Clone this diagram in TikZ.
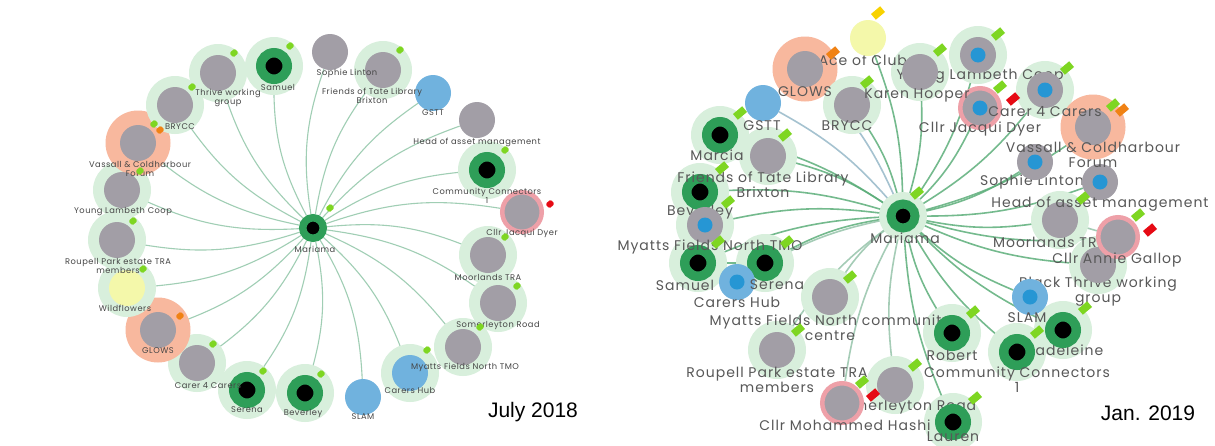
\documentclass[tikz,border=0pt]{standalone}
\usepackage{fontspec}
\setmainfont{Poppins}
\newfontfamily\capfont{Liberation Sans}
\newfontfamily\rlabelfont[LetterSpace=7]{Poppins}
\newfontfamily\llabelfont[LetterSpace=6]{Poppins}
\pgfdeclarelayer{bg}
\pgfdeclarelayer{edges}
\pgfdeclarelayer{halos}
\pgfdeclarelayer{lbl}
\pgfdeclarelayer{top}
\pgfsetlayers{bg,edges,halos,lbl,main,top}

\definecolor{ngray}{RGB}{162,158,166}
\definecolor{halo}{RGB}{216,239,220}
\definecolor{ohalo}{RGB}{248,184,158}
\definecolor{ngreen}{RGB}{46,158,88}
\definecolor{nblue}{RGB}{112,178,222}
\definecolor{nbluec}{RGB}{38,150,212}
\definecolor{nyellow}{RGB}{244,248,170}
\definecolor{npink}{RGB}{238,160,168}
\definecolor{tgreen}{RGB}{126,214,34}
\definecolor{torange}{RGB}{240,130,20}
\definecolor{tred}{RGB}{230,10,20}
\definecolor{tyellow}{RGB}{248,210,0}
\definecolor{txt}{RGB}{88,88,88}
\definecolor{ltxt}{RGB}{70,70,70}
\definecolor{redgec}{RGB}{92,174,122}
\definecolor{redgel}{RGB}{150,196,170}
\definecolor{redgeb}{RGB}{150,184,200}
\definecolor{ledgec}{RGB}{160,206,180}

% node with a pale green halo behind it
\newcommand\withhalo[3]{%
  \begin{pgfonlayer}{halos}\node[halo] (#1-h) at (#2) {};\end{pgfonlayer}%
  \node[#3] (#1) at (#2) {};}
% node with a salmon halo behind it
\newcommand\withohalo[3]{%
  \begin{pgfonlayer}{halos}\node[ohalo] (#1-h) at (#2) {};\end{pgfonlayer}%
  \node[#3] (#1) at (#2) {};}
% node without halo
\newcommand\bare[3]{\node[#3] (#1) at (#2) {};}
% blue centre dot of a node
\newcommand\bluedot[1]{\node[bdot] (#1-c) at (#1) {};}

\begin{document}
\begin{tikzpicture}[x=1pt,y=-1pt,
  gnode/.style={circle,fill=ngray,minimum size=36pt,inner sep=0pt},
  halo/.style={circle,fill=halo,minimum size=58pt,inner sep=0pt},
  ohalo/.style={circle,fill=ohalo,minimum size=65pt,inner sep=0pt},
  grnode/.style={circle,fill=black,draw=ngreen,line width=9.5pt,minimum size=26.5pt,inner sep=0pt},
  bnode/.style={circle,fill=nblue,minimum size=36pt,inner sep=0pt},
  ynode/.style={circle,fill=nyellow,minimum size=36pt,inner sep=0pt},
  bdot/.style={circle,fill=nbluec,minimum size=15pt,inner sep=0pt},
  rnode/.style={circle,fill=ngray,draw=npink,line width=4.5pt,minimum size=39.5pt,inner sep=0pt},
  tagbox/.style={rectangle,fill=tgreen,minimum width=12pt,minimum height=7.5pt,inner sep=0pt,rotate=40},
  stagbox/.style={rectangle,rounded corners=1.5pt,fill=tgreen,minimum width=7pt,minimum height=6pt,inner sep=0pt,rotate=40},
  rlbl/.style={font=\rlabelfont\fontsize{14}{15}\selectfont,text=txt,align=center,inner sep=0pt},
  llbl/.style={font=\llabelfont\fontsize{8.3}{9}\selectfont,text=ltxt,align=center,inner sep=0pt},
  redge/.style={draw=redgec,line width=1.6pt,opacity=.85},
  ledge/.style={draw=ledgec,line width=1.1pt},
  caption/.style={font=\capfont\fontsize{21}{24}\selectfont,text=black,inner sep=0pt}
]
\useasboundingbox (0,0) rectangle (1215,445);
\begin{pgfonlayer}{bg}\fill[white] (0,0) rectangle (1215,445);\end{pgfonlayer}

% ================= left network =================
\node[grnode,minimum size=20.5pt,line width=7.5pt] (lmar) at (313,228) {};
\withhalo{lsam}{274,66}{grnode}
\bare{lsoph}{330,52}{gnode}
\withhalo{lfri}{383,70}{gnode}
\bare{lgstt}{433,93}{bnode}
\bare{lhead}{477,120}{gnode}
\withhalo{lcc}{487,170}{grnode}
\bare{ljd}{522,212}{rnode}
\withhalo{lmoor}{488,255}{gnode}
\withhalo{lsom}{498,303}{gnode}
\withhalo{lmft}{463,347}{gnode}
\withhalo{lch}{410,373}{bnode}
\bare{lslam}{363,397}{bnode}
\withhalo{lbev}{305,393}{grnode}
\withhalo{lser}{247,390}{grnode}
\withhalo{lc4c}{197,363}{gnode}
\withohalo{lglows}{158,330}{gnode}
\withhalo{lwild}{127,288}{ynode}
\withhalo{lrou}{117,240}{gnode}
\withhalo{lylc}{122,190}{gnode}
\withohalo{lvas}{138,143}{gnode}
\withhalo{lbry}{175,105}{gnode}
\withhalo{lthr}{218,73}{gnode}

\begin{pgfonlayer}{top}
\node[llbl] (lmar-l) at (315,249) {Mariama};
\node[llbl] (lsam-l) at (278,87) {Samuel};
\node[llbl] (lsoph-l) at (347,73) {Sophie Linton};
\node[llbl] (lfri-l) at (372,96) {Friends of Tate Library\\Brixton};
\node[llbl] (lgstt-l) at (433,113) {GSTT};
\node[llbl] (lhead-l) at (477,142) {Head of asset management};
\node[llbl] (lcc-l) at (487,196) {Community Connectors\\1};
\node[llbl] (ljd-l) at (522,233) {Cllr Jacqui Dyer};
\node[llbl] (lmoor-l) at (488,277) {Moorlands TRA};
\node[llbl] (lsom-l) at (498,325) {Somerleyton Road};
\node[llbl] (lmft-l) at (465,367) {Myatts Fields North TMO};
\node[llbl] (lch-l) at (410,390) {Carers Hub};
\node[llbl] (lslam-l) at (363,417) {SLAM};
\node[llbl] (lbev-l) at (303,413) {Beverley};
\node[llbl] (lser-l) at (247,410) {Serena};
\node[llbl] (lc4c-l) at (208,386) {Carer 4 Carers};
\node[llbl] (lglows-l) at (158,351) {GLOWS};
\node[llbl] (lwild-l) at (125,308) {Wildflowers};
\node[llbl] (lrou-l) at (118,266) {Roupell Park estate TRA\\members};
\node[llbl] (lylc-l) at (123,212) {Young Lambeth Coop};
\node[llbl] (lvas-l) at (140,169) {Vassall \& Coldharbour\\Forum};
\node[llbl] (lbry-l) at (180,127) {BRYCC};
\node[llbl] (lthr-l) at (228,98) {Thrive working\\group};
% status flags
\node[stagbox] (lmar-t) at (330,208) {};
\node[stagbox] (lsam-t) at (290,46) {};
\node[stagbox] (lfri-t) at (400,50) {};
\node[stagbox] (lcc-t) at (505,150) {};
\node[stagbox,fill=tred] (ljd-t) at (550,204) {};
\node[stagbox] (lmoor-t) at (505,237) {};
\node[stagbox] (lsom-t) at (517,286) {};
\node[stagbox] (lmft-t) at (480,327) {};
\node[stagbox] (lch-t) at (427,350) {};
\node[stagbox] (lbev-t) at (321,374) {};
\node[stagbox] (lser-t) at (263,371) {};
\node[stagbox] (lc4c-t) at (213,344) {};
\node[stagbox,fill=torange] (lglows-t) at (180,316) {};
\node[stagbox] (lwild-t) at (143,269) {};
\node[stagbox] (lrou-t) at (133,221) {};
\node[stagbox] (lylc-t) at (140,171) {};
\node[stagbox] (lvas-t) at (154,124) {};
\node[stagbox,fill=torange] (lvas-t2) at (160,130) {};
\node[stagbox] (lbry-t) at (192,87) {};
\node[stagbox] (lthr-t) at (234,53) {};
\end{pgfonlayer}

\begin{pgfonlayer}{edges}
\foreach \n in {lsam,lsoph,lfri,lgstt,lhead,lcc,ljd,lmoor,lsom,lmft,lch,lslam,lbev,lser,lc4c,lglows,lwild,lrou,lylc,lvas,lbry,lthr}
  \draw[ledge] (lmar) to[bend left=14] (\n);
\end{pgfonlayer}

\node[caption] (lcap) at (533,412) {July 2018};

% ================= right network =================
\begin{pgfonlayer}{halos}\node[halo,minimum size=48pt] (rmr-h) at (903,216) {};\end{pgfonlayer}
\node[grnode,minimum size=24pt,line width=9pt] (rmr) at (903,216) {};
\bare{race}{868,38}{ynode}
\withohalo{rglows}{805,69}{gnode}
\withhalo{rbry}{852,105}{gnode}
\withhalo{rylc}{978,55}{gnode}\bluedot{rylc}
\withhalo{rkar}{920,72}{gnode}
\withhalo{rc4c}{1045,90}{gnode}\bluedot{rc4c}
\bare{rjd}{980,108}{rnode}\bluedot{rjd}
\withohalo{rvas}{1093,127}{gnode}
\bare{rsoph}{1035,162}{gnode}\bluedot{rsoph}
\bare{rhead}{1100,182}{gnode}\bluedot{rhead}
\withhalo{rmoor}{1060,220}{gnode}
\withhalo{rbt}{1098,265}{gnode}
\bare{rag}{1118,237}{rnode}
\bare{rslam}{1030,297}{bnode}\bluedot{rslam}
\withhalo{rmad}{1063,330}{grnode}
\withhalo{rcc}{1017,352}{grnode}
\withhalo{rrob}{952,333}{grnode}
\withhalo{rlau}{953,422}{grnode}
\withhalo{rsom}{895,385}{gnode}
\bare{rmh}{842,403}{rnode}
\withhalo{rrou}{777,350}{gnode}
\withhalo{rmfc}{830,297}{gnode}
\withhalo{rsam}{698,263}{grnode}
\withhalo{rser}{765,263}{grnode}
\bare{rch}{737,282}{bnode}\bluedot{rch}
\withhalo{rbev}{700,192}{grnode}
\withhalo{rmft}{705,225}{gnode}\bluedot{rmft}
\withhalo{rfri}{768,156}{gnode}
\withhalo{rmar}{720,135}{grnode}
\bare{rgstt}{763,103}{bnode}

% labels partly hidden by neighbouring nodes
\begin{pgfonlayer}{lbl}
\node[rlbl] (race-l) at (867,60) {Ace of Clubs};
\node[rlbl] (rylc-l) at (980,76) {Young Lambeth Coop};
\node[rlbl] (rsoph-l) at (1032,182) {Sophie Linton};
\node[rlbl] (rmoor-l) at (1050,242) {Moorlands TRA};
\node[rlbl] (rbt-l) at (1098,292) {Black Thrive working\\group};
\node[rlbl] (rmad-l) at (1063,350) {Madeleine};
\node[rlbl] (rsom-l) at (905,407) {Somerleyton Road};
\node[rlbl] (rmfc-l) at (830,328) {Myatts Fields North community\\centre};
\node[rlbl] (rsam-l) at (685,285) {Samuel};
\node[rlbl] (rbev-l) at (700,212) {Beverley};
\end{pgfonlayer}

\begin{pgfonlayer}{top}
\node[rlbl] (rmr-l) at (905,238) {Mariama};
\node[rlbl] (rglows-l) at (805,92) {GLOWS};
\node[rlbl] (rbry-l) at (847,126) {BRYCC};
\node[rlbl] (rkar-l) at (917,95) {Karen Hooper};
\node[rlbl] (rjd-l) at (980,129) {Cllr Jacqui Dyer};
\node[rlbl] (rc4c-l) at (1045,112) {Carer 4 Carers};
\node[rlbl] (rvas-l) at (1093,155) {Vassall \& Coldharbour\\Forum};
\node[rlbl] (rhead-l) at (1100,204) {Head of asset management};
\node[rlbl] (rag-l) at (1117,260) {Cllr Annie Gallop};
\node[rlbl] (rslam-l) at (1027,318) {SLAM};
\node[rlbl] (rcc-l) at (1017,380) {Community Connectors\\1};
\node[rlbl] (rrob-l) at (952,355) {Robert};
\node[rlbl] (rlau-l) at (953,437) {Lauren};
\node[rlbl] (rmh-l) at (845,425) {Cllr Mohammed Hashi};
\node[rlbl] (rrou-l) at (777,380) {Roupell Park estate TRA\\members};
\node[rlbl] (rch-l) at (737,302) {Carers Hub};
\node[rlbl] (rser-l) at (777,285) {Serena};
\node[rlbl] (rmft-l) at (710,247) {Myatts Fields North TMO};
\node[rlbl] (rfri-l) at (763,185) {Friends of Tate Library\\Brixton};
\node[rlbl] (rmar-l) at (717,155) {Marcia};
\node[rlbl] (rgstt-l) at (762,126) {GSTT};
% status flags
\node[tagbox] (rmr-t) at (917,193) {};
\node[tagbox,fill=tyellow] (race-t) at (878,13) {};
\node[tagbox,fill=torange] (rglows-t) at (833,53) {};
\node[tagbox] (rbry-t) at (867,82) {};
\node[tagbox] (rkar-t) at (940,50) {};
\node[tagbox] (rylc-t) at (998,34) {};
\node[tagbox] (rjd-t) at (1000,87) {};
\node[tagbox,fill=tred] (rjd-t2) at (1013,99) {};
\node[tagbox] (rc4c-t) at (1067,68) {};
\node[tagbox] (rvas-t) at (1113,105) {};
\node[tagbox,fill=torange] (rvas-t2) at (1122,110) {};
\node[tagbox] (rmoor-t) at (1083,198) {};
\node[tagbox] (rag-t) at (1138,215) {};
\node[tagbox,fill=tred] (rag-t2) at (1150,230) {};
\node[tagbox] (rmad-t) at (1085,308) {};
\node[tagbox] (rcc-t) at (1037,332) {};
\node[tagbox] (rrob-t) at (973,312) {};
\node[tagbox] (rlau-t) at (975,398) {};
\node[tagbox] (rsom-t) at (915,365) {};
\node[tagbox] (rmh-t) at (862,382) {};
\node[tagbox,fill=tred] (rmh-t2) at (873,395) {};
\node[tagbox] (rrou-t) at (798,330) {};
\node[tagbox] (rmfc-t) at (850,277) {};
\node[tagbox] (rser-t) at (787,242) {};
\node[tagbox] (rsam-t) at (718,242) {};
\node[tagbox] (rmft-t) at (728,202) {};
\node[tagbox] (rbev-t) at (722,168) {};
\node[tagbox] (rfri-t) at (785,135) {};
\node[tagbox] (rmar-t) at (740,113) {};
\end{pgfonlayer}

\begin{pgfonlayer}{edges}
\foreach \n in {race,rbry,rkar,rylc,rjd,rc4c,rvas,rsoph,rhead,rmoor,rag,rbt,rslam,rmad,rcc,rrob,rlau,rser,rsam,rmft,rbev,rfri,rmar}
  \draw[redge] (rmr) to[bend right=10] (\n);
\foreach \n in {rsom,rmh,rrou,rmfc,rch}
  \draw[redge,draw=redgel] (rmr) to[bend right=10] (\n);
\foreach \n in {rglows,rgstt}
  \draw[redge,draw=redgeb] (rmr) to[bend right=10] (\n);
\draw[redge] (rsam) -- (rser);
\draw[redge,draw=redgel] (rmoor) -- (rag);
\draw[redge] (rslam) -- (rmad);
\end{pgfonlayer}

\node[caption] (rcap) at (1148,413) {Jan. 2019};
\end{tikzpicture}
\end{document}
